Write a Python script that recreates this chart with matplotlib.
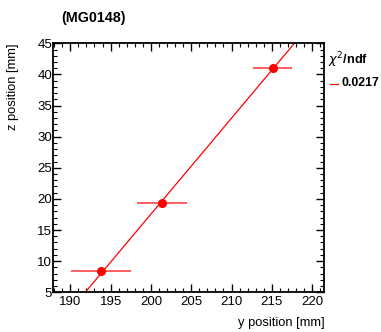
import matplotlib.pyplot as plt
import numpy as np

plt.rcParams['font.family'] = ['Liberation Sans', 'DejaVu Sans']

# dane pomiarowe
y_pos = [193.8, 201.4, 215.1]
z_pos = [8.5, 19.3, 41.1]
y_err = [3.75, 3.1, 2.4]

# parametry dopasowania z = a + b*y
fit_b = 1.542
fit_a = 5 - fit_b * 191.86
chi2_ndf = '0.0217'

fig = plt.figure(figsize=(3.81, 3.32), dpi=100)
ax = fig.add_axes([0.140, 0.1196, 0.711, 0.750])

xs = np.array([187.0, 223.0])
ax.plot(xs, fit_a + fit_b * xs, color='red', lw=0.9)
ax.errorbar(y_pos, z_pos, xerr=y_err, fmt='o', color='red', ms=5.5,
            ecolor='#ff6060', elinewidth=1.4, capsize=0)

ax.set_xlim(187.9, 221.5)
ax.set_ylim(5, 45)
ax.set_xticks(np.arange(190, 221, 5))
ax.set_yticks(np.arange(5, 46, 5))
ax.set_xticks(np.arange(188, 222, 1), minor=True)
ax.set_yticks(np.arange(5, 46, 1), minor=True)
ax.tick_params(which='both', direction='in', top=True, right=True, labelsize=9.5)
ax.tick_params(axis='x', pad=2.5)
ax.tick_params(axis='y', pad=1)
ax.tick_params(which='major', length=5.5, width=1)
ax.tick_params(which='minor', length=3, width=0.8)
for s in ax.spines.values():
    s.set_linewidth(1.3)

ax.set_xlabel('y position [mm]', fontsize=9.3, loc='right')
ax.set_ylabel('z position [mm]', fontsize=9.3, loc='top')
ax.xaxis.set_label_coords(1.0, -0.1)
ax.yaxis.set_label_coords(-0.125, 1.0)

fig.text(61/381, 1 - 18/332, '(MG0148)', fontsize=10.3, fontweight='bold', va='center')
fig.text(328/381, 1 - 60/332, r'$\chi^2$/ndf', fontsize=9.2, fontweight='bold', va='center')
fig.lines.append(plt.Line2D([330/381, 337.5/381], [1 - 83.5/332, 1 - 83.5/332],
                            color='red', lw=0.9, transform=fig.transFigure))
fig.text(341.5/381, 1 - 83.5/332, chi2_ndf, fontsize=8.9, fontweight='bold', va='center')

fig.savefig('out.png', dpi=100)
